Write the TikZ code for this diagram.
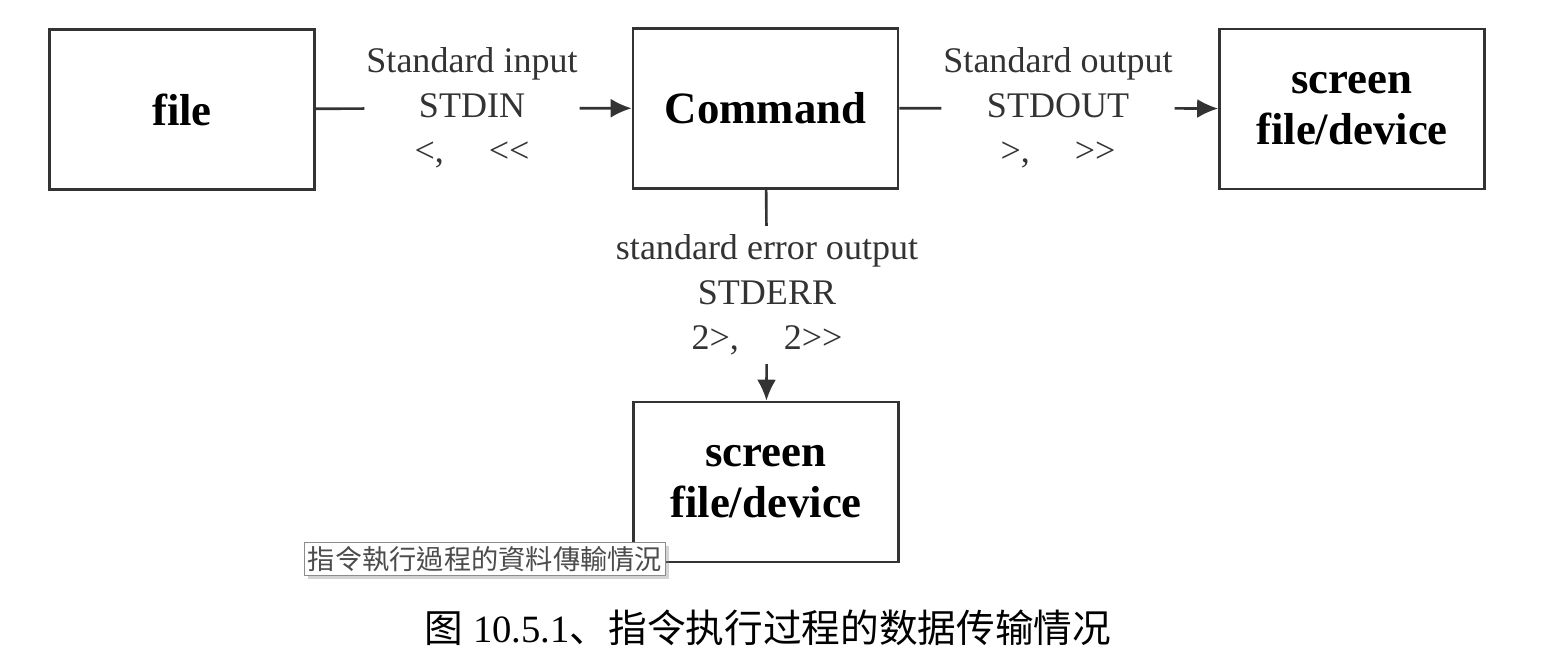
\documentclass[tikz,border=0pt]{standalone}
\usepackage{fontspec}
\setmainfont{Liberation Serif}
\newfontfamily\cjksc{Noto Sans CJK SC}
\newfontfamily\cjktc{Noto Sans CJK TC}
\usepackage{tikz}
\usetikzlibrary{positioning,arrows.meta,shadows}

\begin{document}
\begin{tikzpicture}[
      x=0.02cm, y=-0.02cm,
      unit/.style={draw=black!80, line width=1.5pt, minimum width=5.3cm, minimum height=3.2cm,
                   align=center, font=\fontsize{25.5}{29}\selectfont\bfseries},
      stream/.style={align=center, inner xsep=1pt, inner ysep=5pt,
                     font=\fontsize{20.5}{25.5}\selectfont, text=black!80},
      flow/.style={-{Latex[length=4.2mm, width=3.8mm]}, draw=black!80, line width=1.5pt},
      link/.style={draw=black!80, line width=1.5pt},
    ]
    \useasboundingbox (0,0) rectangle (1542,663);
    \node[unit] (file) at (182,109.5) {file};
    \node[unit] (cmd) at (765.5,108.5) {Command};
    \node[unit] (out) at (1352,109) {screen\\file/device};
    \node[unit] (err) at (766,482) {screen\\file/device};
    % stream labels sit on the connectors
    \node[stream] (stdin) at (472,108) {Standard input\\STDIN\\<,\quad\ <{}<};
    \node[stream] (stdout) at (1058,108) {Standard output\\STDOUT\\>,\quad\ >{}>};
    \node[stream] (stderr) at (767,295) {standard error output\\STDERR\\2>,\quad\ 2>{}>};
    \draw[link] (file) -- (stdin);
    \draw[flow] (stdin) -- (cmd);
    \draw[link] (cmd) -- (stdout);
    \draw[flow] (stdout) -- (out);
    \draw[link] (cmd) -- (stderr);
    \draw[flow] (stderr) -- (err);
    % tooltip and caption
    \node[draw=black!45, fill=white, drop shadow={opacity=0.35, shadow xshift=2pt, shadow yshift=-2pt},
          inner sep=2pt, text=black!70, font=\cjktc\fontsize{15.5}{18}\selectfont] (tip) at (485,559)
          {指令執行過程的資料傳輸情況};
    \node[font=\fontsize{22}{26}\selectfont] (caption) at (768,628)
          {{\cjksc 图} 10.5.1{\cjksc 、指令执行过程的数据传输情况}};
\end{tikzpicture}
\end{document}
